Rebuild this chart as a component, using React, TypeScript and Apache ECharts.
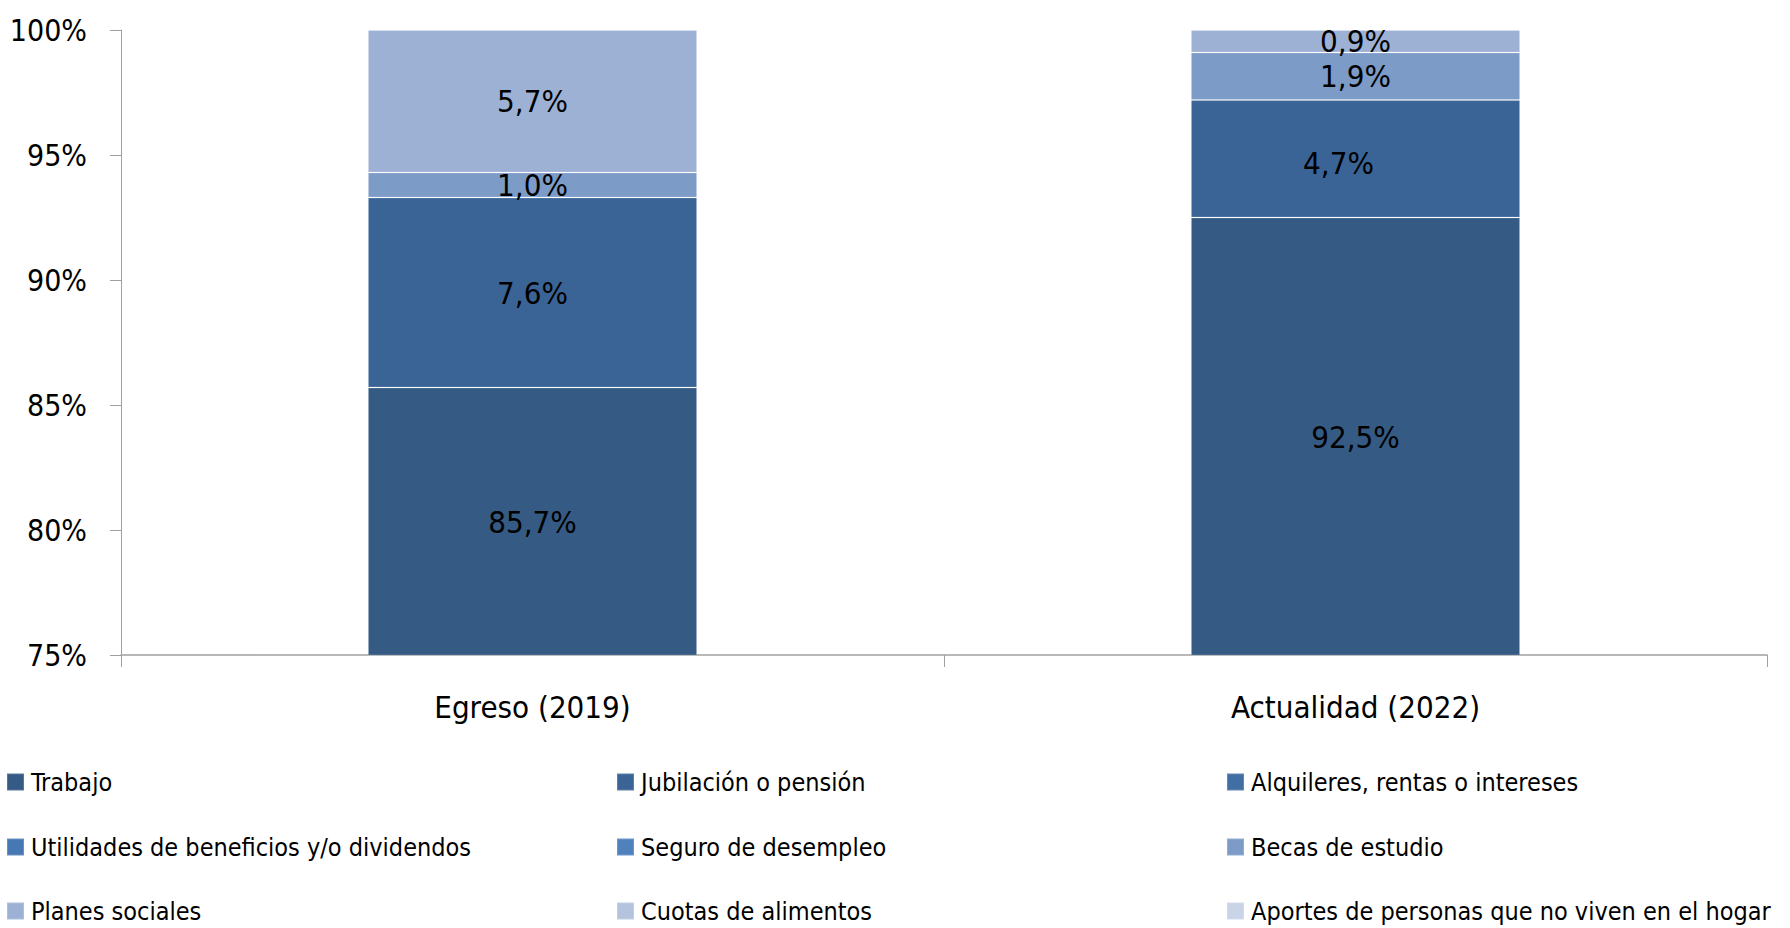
import React, { useEffect, useRef } from "react";
import * as echarts from "echarts";

const categories = ["Egreso (2019)", "Actualidad (2022)"];
const seriesNames = [
  "Trabajo",
  "Jubilación o pensión",
  "Alquileres, rentas o intereses",
  "Utilidades de beneficios y/o dividendos",
  "Seguro de desempleo",
  "Becas de estudio",
  "Planes sociales",
  "Cuotas de alimentos",
  "Aportes de personas que no viven en el hogar",
];
const trabajo = [85.7, 92.5];
const jubilacion = [7.6, 4.7];
const alquileres: (number | null)[] = [null, null];
const utilidades: (number | null)[] = [null, null];
const seguro: (number | null)[] = [null, null];
const becas = [1.0, 1.9];
const planes = [5.7, 0.9];
const cuotas: (number | null)[] = [null, null];
const aportes: (number | null)[] = [null, null];
const yTicks = { min: 75, max: 100, interval: 5 };

const colors = [
  "#355a84",
  "#3b6496",
  "#416ea3",
  "#4878b2",
  "#4f81bd",
  "#7d9bc7",
  "#9db1d4",
  "#b5c4de",
  "#c9d4e6",
];

const FONT = "'Liberation Sans Narrow', 'Arial Narrow', 'DejaVu Sans Condensed', sans-serif";

export default function App() {
  const ref = useRef<HTMLDivElement>(null);
  useEffect(() => {
    document.body.style.margin = "0";
    const chart = echarts.init(ref.current!, null, { renderer: "svg" });
    const values = [trabajo, jubilacion, alquileres, utilidades, seguro, becas, planes, cuotas, aportes];
    const series = seriesNames.map((name, i) => ({
      name,
      type: "bar",
      stack: "total",
      barWidth: "40%",
      clip: true,
      itemStyle: { color: colors[i], borderColor: "rgba(255,255,255,0.18)", borderWidth: 1 },
      label: {
        show: true,
        position: "inside",
        color: "#000",
        fontSize: 31,
        fontFamily: FONT,
        formatter: (p: any) =>
          p.value == null ? "" : Number(p.value).toFixed(1).replace(".", ",") + "%",
      },
      data: values[i].map((v, j) =>
        i === 1 && j === 1 ? { value: v, label: { offset: [-17, 4] } } : v
      ),
    }));
    const colLefts = [6, 616, 1226];
    const rowTops = [767, 832, 896];
    const legends = seriesNames.map((name, i) => ({
      orient: "horizontal",
      left: colLefts[i % 3],
      top: rowTops[Math.floor(i / 3)],
      itemWidth: 17,
      itemHeight: 17,
      icon: "rect",
      selectedMode: false,
      padding: 0,
      data: [name],
      textStyle: { fontSize: 25, lineHeight: 30, color: "#000", fontFamily: FONT, padding: [0, 0, 0, 2] },
    }));
    chart.setOption({
      animation: false,
      grid: { left: 121, right: 23, top: 30, bottom: 273, outerBoundsMode: "none", containLabel: false },
      legend: legends,
      xAxis: {
        type: "category",
        data: categories,
        axisLine: { lineStyle: { color: "#a0a0a0", width: 1.5 } },
        axisTick: { show: true, length: 12, lineStyle: { color: "#a0a0a0" } },
        axisLabel: { color: "#000", fontSize: 31, fontFamily: FONT, margin: 36 },
      },
      yAxis: {
        type: "value",
        min: yTicks.min,
        max: yTicks.max,
        interval: yTicks.interval,
        splitLine: { show: false },
        axisLine: { show: true, lineStyle: { color: "#a0a0a0" } },
        axisTick: { show: true, length: 11, lineStyle: { color: "#a0a0a0" } },
        axisLabel: {
          color: "#000",
          fontSize: 30,
          fontFamily: FONT,
          margin: 34,
          formatter: (v: number) => `${v}%`,
        },
      },
      series,
    });
    return () => chart.dispose();
  }, []);
  return <div ref={ref} style={{ width: 1790, height: 928 }} />;
}
